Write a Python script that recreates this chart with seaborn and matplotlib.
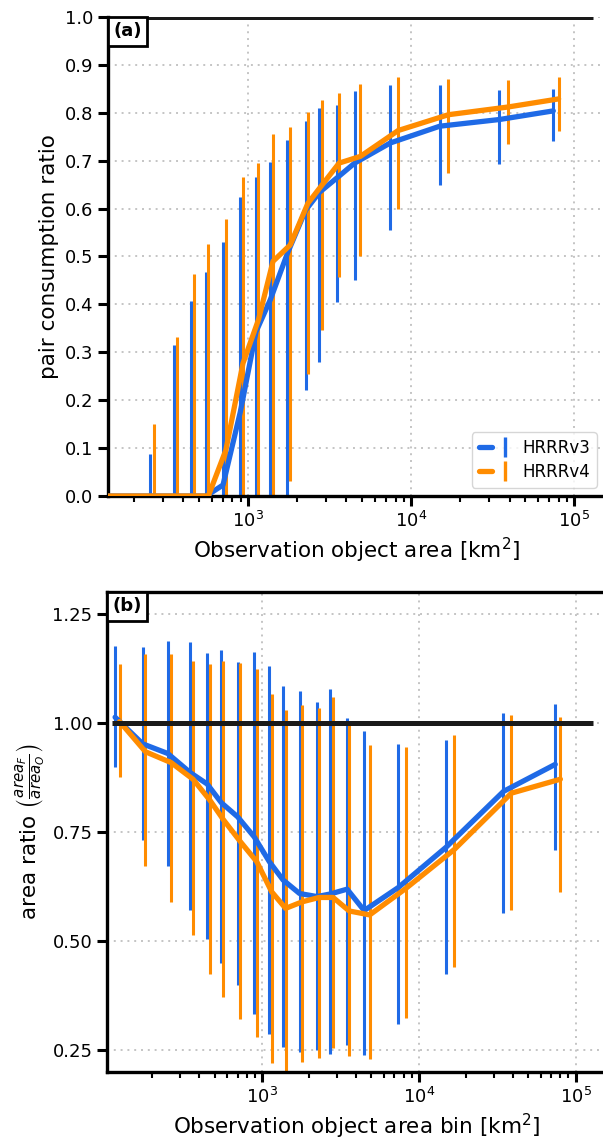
import matplotlib
matplotlib.use("Agg")
import matplotlib.pyplot as plt
import pandas as pd
import seaborn as sns
from matplotlib.legend_handler import HandlerTuple
from matplotlib.lines import Line2D
from matplotlib.offsetbox import AnchoredText
from matplotlib.ticker import FormatStrFormatter, LogLocator, MultipleLocator

MODELS = ["HRRRv3", "HRRRv4"]
COLORS = {"HRRRv3": "#1f6ae6", "HRRRv4": "#ff8c00"}

# observation object area per bin [km^2] (each model plotted at its own mean)
area_v3 = [116, 174, 251, 350, 448, 552, 700, 893, 1116, 1366, 1740, 2250,
           2732, 3495, 4490, 7425, 14930, 34700, 74200]
area_v4 = [124, 181, 264, 364, 466, 569, 729, 928, 1155, 1418, 1808, 2320,
           2845, 3605, 4870, 8300, 16870, 38950, 80000]

# (a) pair consumption ratio: median and spread
pcr_v3 = [0, 0, 0, 0, 0, 0, 0.023, 0.175, 0.343, 0.41, 0.507, 0.597,
          0.634, 0.664, 0.695, 0.737, 0.772, 0.786, 0.804]
pcr_v3_lo = [0, 0, 0, 0, 0, 0, 0, 0, 0, 0, 0, 0.221,
             0.279, 0.404, 0.451, 0.556, 0.65, 0.694, 0.742]
pcr_v3_hi = [0, 0, 0.088, 0.315, 0.407, 0.467, 0.531, 0.625, 0.667, 0.698, 0.744, 0.783,
             0.809, 0.817, 0.845, 0.857, 0.859, 0.848, 0.850]
pcr_v4 = [0, 0, 0, 0, 0, 0, 0.096, 0.277, 0.368, 0.49, 0.524, 0.611,
          0.65, 0.695, 0.709, 0.763, 0.796, 0.812, 0.829]
pcr_v4_lo = [0, 0, 0, 0, 0, 0, 0, 0, 0, 0, 0.031, 0.255,
             0.347, 0.458, 0.501, 0.600, 0.675, 0.735, 0.763]
pcr_v4_hi = [0, 0, 0.150, 0.332, 0.464, 0.526, 0.579, 0.666, 0.696, 0.756, 0.771, 0.802,
             0.827, 0.841, 0.860, 0.875, 0.870, 0.868, 0.875]

# (b) area ratio forecast / observation
ar_v3 = [1.013, 0.952, 0.930, 0.886, 0.860, 0.817, 0.785, 0.739, 0.682, 0.640,
         0.609, 0.602, 0.608, 0.619, 0.570, 0.623, 0.715, 0.843, 0.905]
ar_v3_lo = [0.900, 0.732, 0.672, 0.571, 0.505, 0.449, 0.399, 0.333, 0.288, 0.258,
            0.246, 0.250, 0.242, 0.261, 0.239, 0.310, 0.424, 0.565, 0.709]
ar_v3_hi = [1.177, 1.174, 1.188, 1.186, 1.161, 1.168, 1.140, 1.163, 1.131, 1.085,
            1.073, 1.048, 1.078, 1.011, 0.982, 0.952, 0.961, 1.023, 1.044]
ar_v4 = [1.003, 0.934, 0.909, 0.871, 0.823, 0.778, 0.728, 0.682, 0.613, 0.575,
         0.590, 0.600, 0.600, 0.569, 0.560, 0.621, 0.710, 0.839, 0.871]
ar_v4_lo = [0.877, 0.672, 0.590, 0.514, 0.424, 0.372, 0.321, 0.281, 0.221, 0.19,
            0.223, 0.232, 0.254, 0.236, 0.229, 0.324, 0.441, 0.571, 0.613]
ar_v4_hi = [1.135, 1.158, 1.158, 1.142, 1.135, 1.142, 1.138, 1.124, 1.067, 1.030,
            1.041, 1.035, 1.060, 0.995, 0.950, 0.945, 0.972, 1.018, 1.014]

# span of the perfect-ratio reference line
ref_span = [111, 1.3e5]

TICK_FS = 13
LABEL_FS = 15.5


def make_frame(v3, v3_lo, v3_hi, v4, v4_lo, v4_hi):
    parts = []
    for model, x, y, lo, hi in [("HRRRv3", area_v3, v3, v3_lo, v3_hi),
                                ("HRRRv4", area_v4, v4, v4_lo, v4_hi)]:
        parts.append(pd.DataFrame({"area": x, "value": y, "lo": lo, "hi": hi, "model": model}))
    return pd.concat(parts, ignore_index=True)


def draw_panel(ax, df):
    for model in MODELS:
        sub = df[df["model"] == model]
        ax.vlines(sub["area"], sub["lo"], sub["hi"], color=COLORS[model], lw=2.2, zorder=2)
        sns.lineplot(data=sub, x="area", y="value", color=COLORS[model], lw=3.8,
                     estimator=None, sort=False, legend=False, ax=ax, zorder=3)
    ax.set_xscale("log")
    ax.xaxis.set_major_locator(LogLocator(base=10))
    ax.xaxis.set_minor_locator(LogLocator(base=10, subs=range(2, 10)))
    ax.grid(True, which="major", ls=(0, (1, 2.5)), color="#c4c4c4", lw=1.4)
    ax.grid(False, which="minor")
    ax.hlines(1.0, ref_span[0], ref_span[1], color="k", lw=3.6, zorder=4)
    ax.spines["right"].set_visible(False)
    for s in ["left", "top", "bottom"]:
        ax.spines[s].set_linewidth(2.4)
    ax.tick_params(which="major", direction="out", length=7, width=2.2,
                   labelsize=TICK_FS, color="black", labelcolor="black")
    ax.tick_params(which="minor", direction="out", length=4, width=1.5, color="black")


sns.set_theme(style="ticks")
plt.rcParams["font.family"] = ["DejaVu Sans"]
plt.rcParams["axes.edgecolor"] = "black"
plt.rcParams["text.color"] = "black"
plt.rcParams["axes.labelcolor"] = "black"

fig = plt.figure(figsize=(6.03, 11.43), dpi=100)
ax1 = fig.add_axes([108 / 603, 1 - 496 / 1143, 497 / 603, 479 / 1143])
ax2 = fig.add_axes([107 / 603, 1 - 1072 / 1143, 498 / 603, 480 / 1143])

# panel (a)
df_a = make_frame(pcr_v3, pcr_v3_lo, pcr_v3_hi, pcr_v4, pcr_v4_lo, pcr_v4_hi)
draw_panel(ax1, df_a)
ax1.spines["top"].set_visible(False)
ax1.set_xlim(138, 1.54e5)
ax1.set_ylim(0, 1.0)
ax1.yaxis.set_major_locator(MultipleLocator(0.1))
ax1.set_xlabel("Observation object area [km$^2$]", fontsize=LABEL_FS)
ax1.set_ylabel("pair consumption ratio", fontsize=LABEL_FS)

handles = [(Line2D([], [], color=COLORS[m], lw=3.8),
            Line2D([], [], color=COLORS[m], marker="|", ms=15, mew=2.4, ls="none"))
           for m in MODELS]
ax1.legend(handles, MODELS, loc="lower right", fontsize=12, handlelength=2.0,
           handletextpad=0.6, borderaxespad=0.5, labelspacing=0.35,
           numpoints=1, handler_map={tuple: HandlerTuple(ndivide=None)})

# panel (b)
df_b = make_frame(ar_v3, ar_v3_lo, ar_v3_hi, ar_v4, ar_v4_lo, ar_v4_hi)
draw_panel(ax2, df_b)
ax2.set_xlim(103, 1.54e5)
ax2.set_ylim(0.2, 1.3)
ax2.yaxis.set_major_locator(MultipleLocator(0.25))
ax2.yaxis.set_major_formatter(FormatStrFormatter("%.2f"))
ax2.set_xlabel("Observation object area bin [km$^2$]", fontsize=LABEL_FS)
ax2.set_ylabel(r"area ratio $\left(\frac{area_F}{area_O}\right)$", fontsize=LABEL_FS)

for ax, tag in [(ax1, "(a)"), (ax2, "(b)")]:
    at = AnchoredText(tag, loc="upper left", prop=dict(fontweight="bold", size=13),
                      frameon=True, pad=0.3, borderpad=0.0)
    at.patch.set_linewidth(2.0)
    at.patch.set_edgecolor("black")
    at.set_zorder(6)
    ax.add_artist(at)

fig.savefig("out.png", dpi=100)
